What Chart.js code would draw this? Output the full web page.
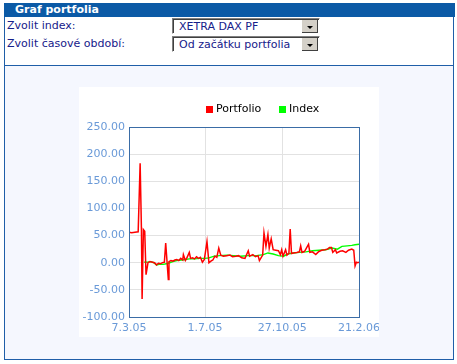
<!DOCTYPE html>
<html>
<head>
<meta charset="utf-8">
<script src="https://cdn.jsdelivr.net/npm/chart.js@4.4.1/dist/chart.umd.min.js"></script>
<style>
  body { margin: 0; background: #fff; font-family: "DejaVu Sans", Verdana, sans-serif; font-size: 11px; }
  .abs { position: absolute; }
  #head { left: 4px; top: 3px; width: 451px; height: 14px; background: #0b5aa6; color: #fff; font-weight: bold; line-height: 14px; }
  #head span { position: absolute; left: 11px; top: 0; }
  #frame { left: 4px; top: 17px; width: 448px; height: 342px; border: 1px solid #1f5ea8; border-top: none; }
  #sep { left: 4px; top: 65px; width: 450px; height: 1px; background: #1f5ea8; }
  #lower { left: 5px; top: 66px; width: 448px; height: 293px; background: #f5f7fe; }
  .lbl { color: #16208a; left: 7px; }
  .sel { left: 172px; width: 146px; height: 14px; border: 1px solid; border-color: #808080 #fff #fff #808080; box-shadow: inset 1px 1px 0 #404040; background: #fff; color: #16208a; }
  .sel span { position: absolute; left: 6px; top: 1px; line-height: 13px; }
  .btn { position: absolute; right: 1px; top: 1px; width: 16px; height: 13px; background: #d4d0c8; border-left: 1px solid #fff; box-shadow: inset -1px -1px 0 #404040; }
  .btn:after { content: ""; position: absolute; left: 5px; top: 6px; border-left: 3px solid transparent; border-right: 3px solid transparent; border-top: 3px solid #000; }
  #box { left: 79px; top: 87px; width: 300px; height: 250px; background: #fff; }
</style>
</head>
<body>
<div id="head" class="abs"><span>Graf portfolia</span></div>
<div id="frame" class="abs"></div>
<div id="sep" class="abs"></div>
<div id="lower" class="abs"></div>
<div class="abs lbl" style="top:19px">Zvolit index:</div>
<div class="abs lbl" style="top:37px">Zvolit časové období:</div>
<div class="abs sel" style="top:18px"><span>XETRA DAX PF</span><div class="btn"></div></div>
<div class="abs sel" style="top:36px"><span>Od začátku portfolia</span><div class="btn"></div></div>
<div id="box" class="abs"><canvas id="myChart" width="300" height="250"></canvas></div>
<script>
// days counted from 7.3.05
let tickDays = [0, 116, 234, 351];
let tickLabels = ['7.3.05', '1.7.05', '27.10.05', '21.2.06'];
let yTicks = [-100, -50, 0, 50, 100, 150, 200, 250];

let seriesNames = ['Portfolio', 'Index'];

let portfolioDays = [0, 4, 9, 14, 17, 19, 20, 22, 24, 26, 29, 32, 36, 39, 42, 45, 48, 51, 54, 56,
    60, 61, 64, 67, 70, 73, 76, 79, 82, 83, 86, 88, 92, 94, 97, 100, 103, 106, 109, 112,
    115, 119, 122, 125, 128, 131, 134, 137, 140, 144, 149, 154, 158, 163, 167, 172, 177, 182, 184, 189,
    193, 197, 199, 204, 206, 209, 212, 214, 217, 220, 224, 228, 231, 233, 235, 239, 241, 244, 246, 248,
    251, 256, 260, 262, 264, 268, 274, 276, 280, 285, 289, 294, 299, 303, 306, 309, 311, 315, 317, 322,
    326, 331, 335, 340, 343, 345, 347, 349, 351];
let portfolioValues = [56, 55, 56, 57, 183, 60, -67, 61, 58, -22, 0, 2, 1, 0, -4, -1, -2, 0, 1, 36,
    -31, 2, 4, 3, 5, 6, 4, 8, 5, 15, 4, 8, 19, 8, 9, 7, 11, 8, 10, 1,
    6, 39, 0, 3, 5, 12, 10, 27, 14, 12, 13, 14, 11, 12, 13, 9, 8, 22, 12, 15,
    11, 13, 4, 14, 55, 30, 52, 27, 44, 24, 23, 22, 15, 24, 12, 24, 14, 17, 62, 17,
    18, 19, 20, 31, 19, 21, 34, 19, 20, 15, 20, 23, 24, 25, 28, 28, 19, 24, 18, 21,
    22, 19, 23, 25, 23, -6, 1, 0, 1];

let indexDays = [23, 29, 33, 38, 42, 46, 52, 57, 62, 67, 73, 80, 86, 92, 100, 108, 116, 122, 130, 138,
    150, 160, 170, 182, 195, 205, 212, 220, 228, 236, 242, 250, 260, 270, 280, 290, 300, 310, 318, 325,
    333, 340, 345, 351];
let indexValues = [1, 1, 2, 0, -4, -3, -3, -2, 0, 2, 4, 5, 6, 7, 7, 8, 8, 9, 12, 13,
    14, 13, 12, 13, 13, 15, 18, 16, 13, 12, 16, 18, 19, 20, 22, 23, 24, 27, 25, 30,
    31, 32, 33, 34];

function toPoints(days, values) {
    return days.map((d, i) => ({ x: d, y: values[i] }));
}

// plot frame + legend drawn by hand, like the original applet
let framePlugin = {
    id: 'frame',
    afterDatasetsDraw(chart) {
        let a = chart.chartArea;
        let c = chart.ctx;
        c.save();
        c.strokeStyle = '#3a6ca6';
        c.lineWidth = 1;
        c.strokeRect(Math.round(a.left) + 0.5, Math.round(a.top) + 0.5,
            Math.round(a.right - a.left), Math.round(a.bottom - a.top));
        // legend
        c.font = '11px "DejaVu Sans", sans-serif';
        c.textBaseline = 'middle';
        let xs = [127, 200];
        chart.data.datasets.forEach((ds, i) => {
            c.fillStyle = ds.borderColor;
            c.fillRect(xs[i], 19, 7, 7);
            c.fillStyle = '#000';
            c.fillText(ds.label, xs[i] + 10, 22.5);
        });
        c.restore();
    }
};

let ctx = document.getElementById('myChart');
let chart = new Chart(ctx, {
    type: 'line',
    plugins: [framePlugin],
    data: {
        datasets: [
            {
                label: seriesNames[0],
                data: toPoints(portfolioDays, portfolioValues),
                borderColor: '#ff0000',
                borderWidth: 1.5,
                pointRadius: 0,
                tension: 0,
                fill: false
            },
            {
                label: seriesNames[1],
                data: toPoints(indexDays, indexValues),
                borderColor: '#00ff00',
                borderWidth: 1.4,
                pointRadius: 0,
                tension: 0,
                fill: false
            }
        ]
    },
    options: {
        responsive: false,
        animation: false,
        layout: { padding: { top: 40, right: 20, left: 0, bottom: 0 } },
        plugins: {
            legend: { display: false },
            tooltip: { enabled: false }
        },
        scales: {
            x: {
                type: 'linear',
                min: tickDays[0],
                max: tickDays[tickDays.length - 1],
                afterBuildTicks: (s) => { s.ticks = tickDays.map(v => ({ value: v })); },
                afterFit: (s) => { s.height = 20; s.paddingLeft = 0; s.paddingRight = 0; },
                border: { display: false },
                grid: { color: '#e2e2e2', drawTicks: false },
                ticks: {
                    color: '#6a9ad8',
                    font: { family: '"DejaVu Sans"', size: 11 },
                    padding: 5,
                    maxRotation: 0,
                    autoSkip: false,
                    callback: (v) => tickLabels[tickDays.indexOf(v)]
                }
            },
            y: {
                min: yTicks[0],
                max: yTicks[yTicks.length - 1],
                afterBuildTicks: (s) => { s.ticks = yTicks.map(v => ({ value: v })); },
                afterFit: (s) => { s.width = 50; s.paddingTop = 0; s.paddingBottom = 0; },
                border: { display: false },
                grid: { color: '#e2e2e2', drawTicks: false },
                ticks: {
                    color: '#6a9ad8',
                    font: { family: '"DejaVu Sans"', size: 11 },
                    padding: 4,
                    callback: (v) => v.toFixed(2)
                }
            }
        }
    }
});
</script>
</body>
</html>
